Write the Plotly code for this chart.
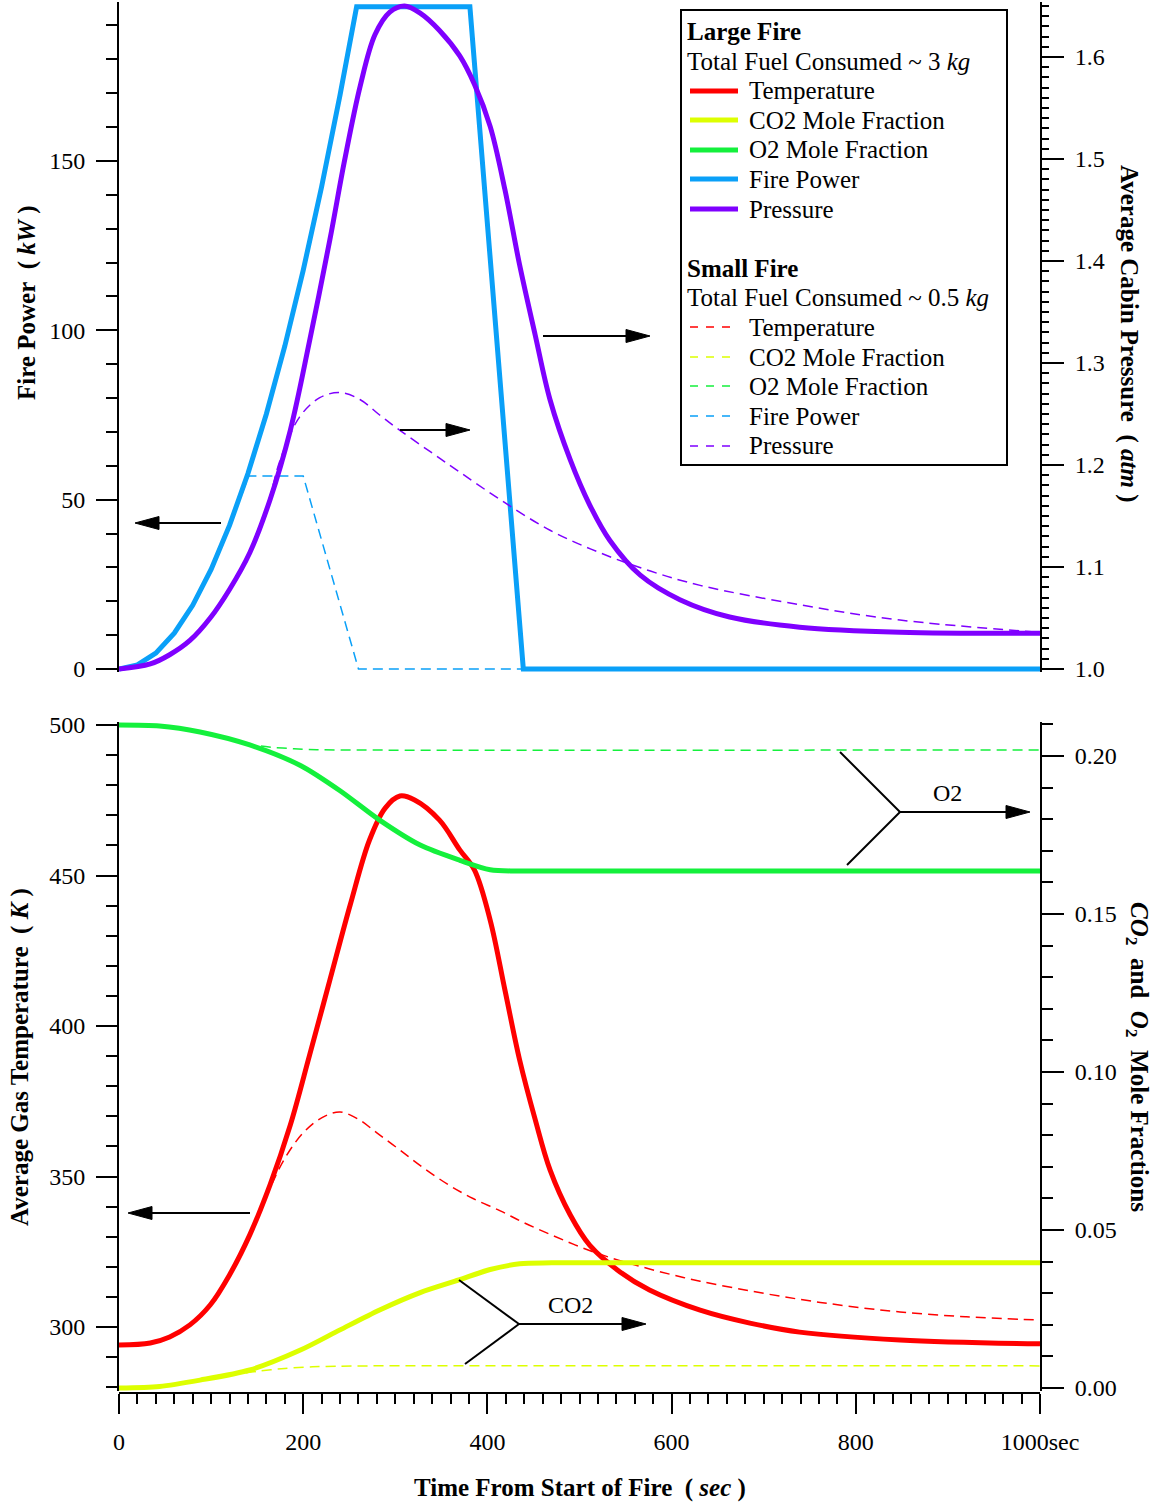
import plotly.graph_objects as go

# ---------------- data ----------------
# Top panel: fire power (kW) and average cabin pressure (atm)
t_fp_large = [0, 20, 40, 60, 80, 100, 120, 140, 160, 180, 200, 220, 240, 258, 381, 439, 1000]
fp_large = [0, 1.2, 4.7, 10.6, 18.8, 29.4, 42.4, 57.7, 75.3, 95.3, 117.7, 142.4, 169.5, 195.5,
            195.5, 0, 0]

t_fp_small = [0, 20, 40, 60, 80, 100, 120, 141, 200, 260, 1000]
fp_small = [0, 1.2, 4.7, 10.6, 18.8, 29.4, 42.4, 57, 57, 0, 0]

t_p_large = [0, 34, 55, 77, 99, 120, 142, 164, 186, 207, 229, 245, 262, 278, 294, 310, 327, 348,
             370, 386, 403, 419, 435, 452, 468, 490, 511, 533, 566, 609, 663, 739, 848, 1000]
p_large = [1.0, 1.005, 1.014, 1.028, 1.05, 1.078, 1.114, 1.166, 1.234, 1.322, 1.421, 1.499, 1.572,
           1.622, 1.644, 1.65, 1.643, 1.626, 1.601, 1.573, 1.532, 1.47, 1.396, 1.327, 1.264,
           1.205, 1.161, 1.126, 1.092, 1.068, 1.051, 1.041, 1.036, 1.035]

t_p_small = [0, 34, 55, 77, 99, 120, 142, 162, 175, 196, 218, 240, 262, 283, 305, 338, 370, 414,
             468, 522, 577, 631, 739, 848, 1000]
p_small = [1.0, 1.005, 1.014, 1.028, 1.05, 1.078, 1.114, 1.163, 1.205, 1.247, 1.266, 1.271, 1.264,
           1.249, 1.234, 1.213, 1.193, 1.166, 1.136, 1.114, 1.096, 1.082, 1.063, 1.048, 1.036]

# Bottom panel: average gas temperature (K), CO2 / O2 mole fractions
t_T_large = [0, 34, 55, 77, 99, 120, 142, 164, 186, 207, 229, 251, 272, 289, 305, 321, 348, 370,
             386, 403, 419, 435, 452, 468, 490, 511, 544, 576, 631, 685, 739, 848, 1000]
T_large = [294, 294.7, 296.7, 300.7, 307.3, 317.3, 330.6, 347.2, 367.1, 390.4, 415.3, 440.2,
           461.8, 472.4, 476.4, 475.1, 468.4, 458.5, 451.8, 435.2, 412, 388.7, 368.8, 352.2,
           337.2, 327.2, 318.3, 312.3, 305.6, 301.3, 298.3, 295.7, 294.4]

t_T_small = [0, 34, 55, 77, 99, 120, 142, 160, 180, 200, 220, 240, 260, 280, 305, 330, 359, 385,
             414, 440, 468, 495, 522, 550, 577, 604, 631, 685, 739, 790, 848, 920, 1000]
T_small = [294, 294.7, 296.7, 300.7, 307.3, 317.3, 330.6, 343.5, 356, 364.5, 369.5, 371.4, 369,
           364.5, 358.8, 353, 347, 342.6, 338.6, 334.6, 330.8, 327.3, 324.2, 321.5, 319.2, 317.1,
           315.2, 312, 309.2, 307, 305, 303.4, 302.3]

t_o2_large = [0, 44, 88, 142, 197, 240, 283, 327, 370, 403, 435, 1000]
o2_large = [0.2098, 0.2095, 0.2076, 0.2035, 0.197, 0.189, 0.1797, 0.1718, 0.167, 0.164, 0.1636,
            0.1636]

t_o2_small = [0, 44, 88, 120, 142, 165, 190, 215, 240, 1000]
o2_small = [0.2098, 0.2095, 0.2076, 0.2056, 0.2037, 0.2028, 0.2023, 0.2020, 0.2019, 0.2019]

t_co2_large = [0, 44, 88, 142, 197, 240, 283, 327, 369, 403, 435, 470, 1000]
co2_large = [0, 0.0005, 0.0025, 0.0057, 0.012, 0.0184, 0.0247, 0.0302, 0.0342, 0.0375, 0.0393,
             0.0396, 0.0396]

t_co2_small = [0, 44, 88, 120, 150, 180, 210, 240, 270, 1000]
co2_small = [0, 0.0005, 0.0025, 0.004, 0.0053, 0.0062, 0.0067, 0.0069, 0.007, 0.007]

series_names = ["Temperature", "CO2 Mole Fraction", "O2 Mole Fraction", "Fire Power", "Pressure"]
group_titles = ["Large Fire", "Small Fire"]
group_notes = ["Total Fuel Consumed ~ 3 <i>kg</i>", "Total Fuel Consumed ~ 0.5 <i>kg</i>"]

# ---------------- styling ----------------
FONT = "Liberation Serif, Times New Roman, serif"
C_T, C_CO2, C_O2, C_FP, C_P = "#FF0000", "#DDFF00", "#14F03C", "#0AA0F8", "#7F00FF"
colors = [C_T, C_CO2, C_O2, C_FP, C_P]
smooth = [1.0, 0.8, 0.8, None, 1.0]
W, H = 1159, 1507
ML, MR, MT, MB = 119, 119, 2, 114
PW, PH = W - ML - MR, H - MT - MB
DASH = "10px,6px"


def pyf(p):  # pixel row -> paper y
    return (H - MB - p) / PH


def pxf(p):  # pixel col -> paper x
    return (p - ML) / PW


fig = go.Figure()

large = [(t_T_large, T_large, "x2", "y3"), (t_co2_large, co2_large, "x2", "y4"),
         (t_o2_large, o2_large, "x2", "y4"), (t_fp_large, fp_large, "x", "y"),
         (t_p_large, p_large, "x", "y2")]
small = [(t_T_small, T_small, "x2", "y3"), (t_co2_small, co2_small, "x2", "y4"),
         (t_o2_small, o2_small, "x2", "y4"), (t_fp_small, fp_small, "x", "y"),
         (t_p_small, p_small, "x", "y2")]

for grp, data, width, dash in [(group_titles[1], small, 1.5, DASH), (group_titles[0], large, 5, "solid")]:
    for i, (tx, vy, xa, ya) in enumerate(data):
        sm = smooth[i]
        fig.add_trace(go.Scatter(
            x=tx, y=vy, xaxis=xa, yaxis=ya, mode="lines", name=f"{grp} {series_names[i]}",
            line=dict(color=colors[i], width=width, dash=dash,
                      shape="linear" if sm is None else "spline", smoothing=sm),
            showlegend=False, hoverinfo="skip"))

# ---------------- axes ----------------
tickfont = dict(family=FONT, size=24, color="black")
common = dict(showgrid=False, zeroline=False, showline=True, linecolor="black", linewidth=2,
              ticks="outside", tickwidth=2, tickcolor="black", tickfont=tickfont)

top_dom = [pyf(672.4), 1.0]
bot_dom = [pyf(1391), pyf(722)]

top_left_range = [(669 - 672.4) / 3.387, (669 - 2) / 3.387]
top_right_range = [1 + (669 - 672.4) / 1020, 1 + (669 - 2) / 1020]
bot_left_range = [300 - (1391 - 1327) / 3.01, 300 + (1327 - 722) / 3.01]
bot_right_range = [-(1391 - 1388) / 3160, (1388 - 722) / 3160]

minor_style = dict(tickwidth=2, ticks="outside", tickcolor="black")
fig.update_layout(
    width=W, height=H, margin=dict(l=ML, r=MR, t=MT, b=MB, pad=0, autoexpand=False),
    paper_bgcolor="white", plot_bgcolor="white",
    font=dict(family=FONT, size=24, color="black"),
    showlegend=False,
    xaxis=dict(domain=[0, 1], range=[0, 1000], anchor="y", visible=False),
    yaxis=dict(domain=top_dom, range=top_left_range, anchor="x", tickmode="linear", tick0=0, dtick=50,
               ticklen=21, ticklabelstandoff=6, minor=dict(dtick=10, tick0=0, ticklen=11, **minor_style),
               **common),
    yaxis2=dict(range=top_right_range, overlaying="y", side="right", anchor="x", tickmode="linear",
                tick0=1.0, dtick=0.1, tickformat=".1f", ticklen=22, ticklabelstandoff=6,
                minor=dict(dtick=0.01, tick0=1.0, ticklen=7, **minor_style), **common),
    yaxis5=dict(range=top_right_range, overlaying="y", side="right", anchor="x", tickmode="array",
                tickvals=[1.05, 1.15, 1.25, 1.35, 1.45, 1.55, 1.65], ticks="outside", ticklen=11,
                tickwidth=2, tickcolor="black", showticklabels=False, showline=False, showgrid=False,
                zeroline=False),
    xaxis2=dict(domain=[0, 1], range=[0, 1000], anchor="free", position=0, tickmode="linear", tick0=0,
                dtick=200, ticklen=20, ticklabelstandoff=7, labelalias={"1000": "1000sec"},
                minor=dict(dtick=20, tick0=0, ticklen=10, **minor_style), **common),
    yaxis3=dict(domain=bot_dom, range=bot_left_range, anchor="x2", tickmode="linear", tick0=0, dtick=50,
                ticklen=21, ticklabelstandoff=6, minor=dict(dtick=10, tick0=0, ticklen=11, **minor_style),
                **common),
    yaxis4=dict(range=bot_right_range, overlaying="y3", side="right", anchor="x2", tickmode="linear",
                tick0=0, dtick=0.05, tickformat=".2f", ticklen=22, ticklabelstandoff=6,
                minor=dict(dtick=0.01, tick0=0, ticklen=11, **minor_style), **common),
)

# ---------------- axis titles ----------------
NB = "\u00a0"
titles = [
    (f"<b>Fire Power{NB}{NB}({NB}<i>kW</i>{NB})</b>", 27, 303, -90),
    (f"<b>Average Cabin Pressure{NB}{NB}({NB}<i>atm</i>{NB})</b>", 1129, 333, 90),
    (f"<b>Average Gas Temperature{NB}{NB}({NB}<i>K</i>{NB})</b>", 20, 1057, -90),
    (f"<b><i>CO</i><sub>2</sub>{NB}{NB}and{NB}{NB}<i>O</i><sub>2</sub>{NB}{NB}Mole Fractions</b>", 1138, 1057, 90),
    (f"<b>Time From Start of Fire{NB}{NB}({NB}<i>sec</i>{NB})</b>", 580, 1488, 0),
]
for txt, x, y, ang in titles:
    fig.add_annotation(text=txt, xref="paper", yref="paper", x=pxf(x), y=pyf(y), xanchor="center",
                       yanchor="middle", textangle=ang, showarrow=False,
                       font=dict(family=FONT, size=25, color="black"))

# ---------------- legend (drawn as a boxed key) ----------------
fig.add_shape(type="rect", xref="paper", yref="paper", x0=pxf(681), x1=pxf(1007), y0=pyf(465),
              y1=pyf(10), line=dict(color="black", width=2), fillcolor="white", layer="above")
leg_font = dict(family=FONT, size=25, color="black")
for g, (head_y, rows, width, dash, x_end) in enumerate([
        (31, [91, 120, 150, 179, 209], 5, "solid", 738),
        (268, [327, 357, 386, 416, 446], 1.5, "8px,8px", 732)]):
    fig.add_annotation(text=f"<b>{group_titles[g]}</b>", xref="paper", yref="paper", x=pxf(685),
                       y=pyf(head_y), xanchor="left", yanchor="middle", showarrow=False, font=leg_font)
    fig.add_annotation(text=group_notes[g], xref="paper", yref="paper", x=pxf(685),
                       y=pyf(head_y + 30), xanchor="left", yanchor="middle", showarrow=False, font=leg_font)
    for i, ry in enumerate(rows):
        fig.add_shape(type="line", xref="paper", yref="paper", x0=pxf(690), x1=pxf(x_end),
                      y0=pyf(ry), y1=pyf(ry), line=dict(color=colors[i], width=width, dash=dash))
        fig.add_annotation(text=series_names[i], xref="paper", yref="paper", x=pxf(747), y=pyf(ry),
                           xanchor="left", yanchor="middle", showarrow=False, font=leg_font)


# ---------------- arrows / pointer lines ----------------
def tp(px):
    return (px - 119) / 0.921


def kw(py):
    return (669 - py) / 3.387


def kel(py):
    return 300 + (1327 - py) / 3.01


def seg(x0, y0, x1, y1, xr, yr):
    fig.add_shape(type="line", x0=x0, y0=y0, x1=x1, y1=y1, xref=xr, yref=yr,
                  line=dict(color="black", width=2))


def head(xt, yt, xr, yr, direction):
    s = 1 if direction == "right" else -1
    fig.add_shape(type="path", xref=xr, yref=yr, xsizemode="pixel", ysizemode="pixel",
                  xanchor=xt, yanchor=yt,
                  path=f"M0,0 L{-24 * s},6.5 L{-24 * s},-6.5 Z",
                  fillcolor="black", line=dict(color="black", width=1))


def arrow(px0, px1, yv, xr, yr, direction):
    s = 1 if direction == "right" else -1
    seg(tp(px0), yv, tp(px1 - 22 * s), yv, xr, yr)
    head(tp(px1), yv, xr, yr, direction)


# top panel
arrow(221, 135, kw(523), "x", "y", "left")
arrow(400, 470, kw(430), "x", "y", "right")
arrow(543, 650, kw(336), "x", "y", "right")
# bottom panel
arrow(250, 128, kel(1213), "x2", "y3", "left")
# O2 pointer
seg(tp(840), kel(752), tp(900), kel(812), "x2", "y3")
seg(tp(847), kel(865), tp(900), kel(812), "x2", "y3")
arrow(900, 1030, kel(812), "x2", "y3", "right")
fig.add_annotation(text="O2", x=tp(947), y=kel(793), xref="x2", yref="y3", showarrow=False,
                   font=dict(family=FONT, size=24, color="black"))
# CO2 pointer
seg(tp(459), kel(1280), tp(519), kel(1324), "x2", "y3")
seg(tp(465), kel(1364), tp(519), kel(1324), "x2", "y3")
arrow(519, 646, kel(1324), "x2", "y3", "right")
fig.add_annotation(text="CO2", x=tp(570), y=kel(1305), xref="x2", yref="y3", showarrow=False,
                   font=dict(family=FONT, size=24, color="black"))

fig.write_html("out.html")
